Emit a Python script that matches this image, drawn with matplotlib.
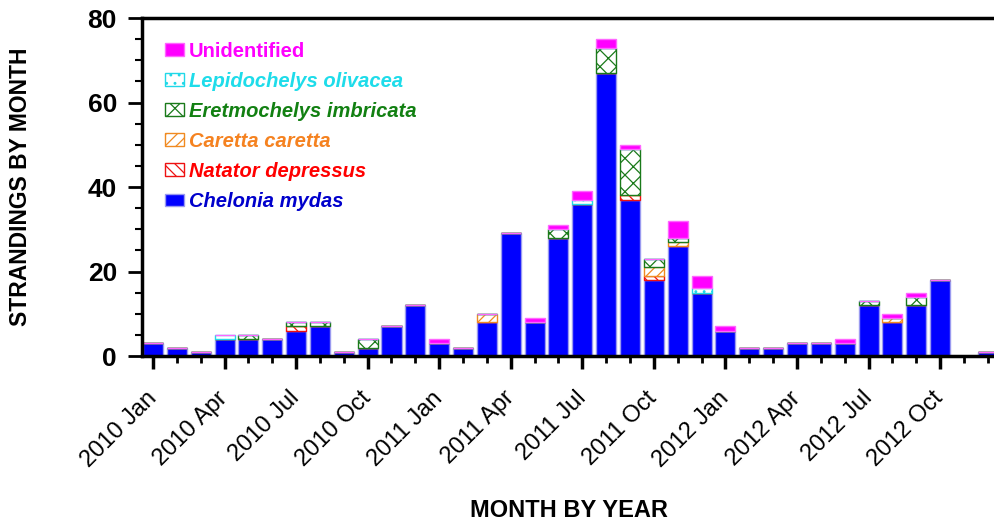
import numpy as np
import matplotlib
matplotlib.use("Agg")
import matplotlib.pyplot as plt
from matplotlib.ticker import MultipleLocator

plt.rcParams["font.family"] = ["Liberation Sans", "DejaVu Sans"]
plt.rcParams["hatch.linewidth"] = 0.9

# ── data (monthly strandings, Jan 2010 – Dec 2012) ─────────────────────────
months = [f"{y} {m}" for y in (2010, 2011, 2012)
          for m in ("Jan", "Feb", "Mar", "Apr", "May", "Jun",
                    "Jul", "Aug", "Sep", "Oct", "Nov", "Dec")]
chelonia     = [3, 2, 1, 4, 4, 4, 6, 7, 1, 2, 7, 12,
                3, 2, 8, 29, 8, 28, 36, 67, 37, 18, 26, 15,
                6, 2, 2, 3, 3, 3, 12, 8, 12, 18, 0, 1]
natator      = [0, 0, 0, 0, 0, 0, 1, 0, 0, 0, 0, 0,
                0, 0, 0, 0, 0, 0, 0, 0, 1, 1, 0, 0,
                0, 0, 0, 0, 0, 0, 0, 0, 0, 0, 0, 0]
caretta      = [0, 0, 0, 0, 0, 0, 0, 0, 0, 0, 0, 0,
                0, 0, 2, 0, 0, 0, 0, 0, 0, 2, 1, 0,
                0, 0, 0, 0, 0, 0, 0, 1, 0, 0, 0, 0]
eretmochelys = [0, 0, 0, 0, 1, 0, 1, 1, 0, 2, 0, 0,
                0, 0, 0, 0, 0, 2, 0, 6, 11, 2, 1, 0,
                0, 0, 0, 0, 0, 0, 1, 0, 2, 0, 0, 0]
lepidochelys = [0, 0, 0, 1, 0, 0, 0, 0, 0, 0, 0, 0,
                0, 0, 0, 0, 0, 0, 1, 0, 0, 0, 0, 1,
                0, 0, 0, 0, 0, 0, 0, 0, 0, 0, 0, 0]
unidentified = [0, 0, 0, 0, 0, 0, 0, 0, 0, 0, 0, 0,
                1, 0, 0, 0, 1, 1, 2, 2, 1, 0, 4, 3,
                1, 0, 0, 0, 0, 1, 0, 1, 1, 0, 0, 0]

# name, values, face, edge, hatch, legend text colour, font style
series = [
    ("Chelonia mydas",         chelonia,     "#0000ff", "#9a9af0", None,  "#0000cc", "italic"),
    ("Natator depressus",      natator,      "white",   "#ee1111", "\\\\\\", "#ff0000", "italic"),
    ("Caretta caretta",        caretta,      "white",   "#f08a20", "///", "#f58220", "italic"),
    ("Eretmochelys imbricata", eretmochelys, "white",   "#1a7a1a", "xx",  "#128012", "italic"),
    ("Lepidochelys olivacea",  lepidochelys, "white",   "#20d8e8", "..",  "#1edcea", "italic"),
    ("Unidentified",           unidentified, "#ff00ff", "#ff66ff", None,  "#ff00ff", "normal"),
]

# ── figure ────────────────────────────────────────────────────────────────
fig = plt.figure(figsize=(9.95, 5.24), dpi=100)
ax = fig.add_axes([0.1427, 0.3206, 0.8573, 0.645])

x = np.arange(len(months))
bottom = np.zeros(len(months))
handles = []
for name, vals, fc, ec, hatch, tc, style in series:
    vals = np.array(vals, dtype=float)
    b = ax.bar(x, vals, width=0.84, bottom=bottom, color=fc, edgecolor=ec,
               hatch=hatch, linewidth=1.0, label=name)
    handles.append(b)
    bottom += vals

ax.set_xlim(-0.46, 35.3)
ax.set_ylim(0, 80)
ax.yaxis.set_major_locator(MultipleLocator(20))
ax.yaxis.set_minor_locator(MultipleLocator(5))

ax.set_xticks(x, minor=True)
major = [i for i in x if i % 3 == 0]
ax.set_xticks(major)
ax.set_xticklabels([months[i] for i in major], rotation=45, ha="right",
                   va="center", rotation_mode="anchor", fontsize=17)
ax.tick_params(axis="y", labelsize=19, width=2, length=10, pad=8)
ax.tick_params(axis="y", which="minor", width=1.5, length=5)
ax.tick_params(axis="x", which="major", width=2.5, length=9, pad=19)
ax.tick_params(axis="x", which="minor", width=2, length=5)
for lab in ax.get_yticklabels():
    lab.set_fontweight("bold")

for s in ("left", "bottom", "top"):
    ax.spines[s].set_linewidth(2.5)
ax.spines["right"].set_visible(False)

ax.set_ylabel("STRANDINGS BY MONTH", fontsize=16.5, fontweight="bold", labelpad=40)
ax.set_xlabel("MONTH BY YEAR", fontsize=17, fontweight="bold", labelpad=20)

leg = ax.legend(handles[::-1], [s[0] for s in series][::-1], loc="upper left",
                bbox_to_anchor=(0.015, 0.96), frameon=False, fontsize=14.5,
                handlelength=0.95, handleheight=0.6, handletextpad=0.25,
                labelspacing=0.55, borderpad=0)
for txt, s in zip(leg.get_texts(), series[::-1]):
    txt.set_color(s[5])
    txt.set_fontweight("bold")
    txt.set_fontstyle(s[6])

fig.savefig("out.png", dpi=100)
